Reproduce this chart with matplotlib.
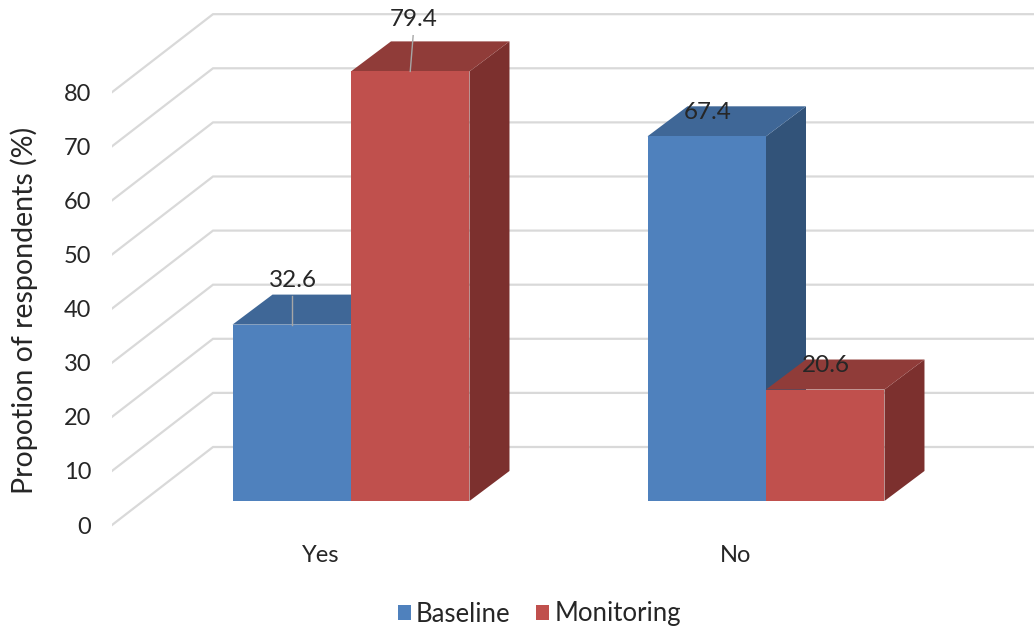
import matplotlib
matplotlib.use('Agg')
import matplotlib.pyplot as plt
from matplotlib.patches import Patch, Polygon

plt.rcParams['font.family'] = ['Lato', 'DejaVu Sans']

# Data
categories = ['Yes', 'No']
baseline = [32.6, 67.4]
monitoring = [79.4, 20.6]
y_ticks = [0, 10, 20, 30, 40, 50, 60, 70, 80]

# Colours: front, top, side
blue = ['#4f81bd', '#3f6797', '#325379']
red = ['#c0504d', '#903c39', '#7c302e']
text_color = '#262626'
grid_color = '#d9d9d9'

# Fake 3D geometry, in data units
bar_w = 0.2855
depth_x = 0.0964
depth_y = 5.55
wall_x = -0.3325
wall_y = 9.98
floor_x = -0.5759
floor_y = -4.44
label_shift = -0.0723

fig = plt.figure(figsize=(10.34, 6.3), dpi=100)
ax = fig.add_axes([112 / 1034, 100 / 630, 922 / 1034, 530 / 630])
ax.set_xlim(floor_x, 1.6458)
ax.set_ylim(-5.36, 92.6)
for spine in ax.spines.values():
    spine.set_visible(False)

# Side wall and back wall grid lines
for t in y_ticks:
    ax.plot([floor_x, wall_x, 1.6458], [t + floor_y, t + wall_y, t + wall_y],
            color=grid_color, lw=1.6, solid_joinstyle='miter', zorder=1)


def draw_box(left, value, colors, zorder):
    right = left + bar_w
    # side face
    ax.add_patch(Polygon([(right, 0), (right + depth_x, depth_y),
                          (right + depth_x, value + depth_y), (right, value)],
                         facecolor=colors[2], edgecolor='none', zorder=zorder))
    # top face
    ax.add_patch(Polygon([(left, value), (left + depth_x, value + depth_y),
                          (right + depth_x, value + depth_y), (right, value)],
                         facecolor=colors[1], edgecolor='none', zorder=zorder))
    # front face
    ax.bar(left, value, width=bar_w, align='edge', color=colors[0], edgecolor='none', zorder=zorder)


for i in range(len(categories)):
    draw_box(i - bar_w, baseline[i], blue, 2)
    draw_box(i, monitoring[i], red, 3)

# Value labels, two of them with a leader line
ax.plot([-bar_w / 2, -bar_w / 2], [baseline[0], baseline[0] + 5.3],
        color='#a6a6a6', lw=1, zorder=4)
ax.plot([bar_w / 2, bar_w / 2 + 0.007], [monitoring[0], monitoring[0] + 6.6],
        color='#a6a6a6', lw=1, zorder=4)
label_args = dict(ha='center', va='center', fontsize=17.5, color=text_color, zorder=5)
ax.annotate(f'{baseline[0]}', (-bar_w / 2, baseline[0]), xytext=(0.7, 32), textcoords='offset points', **label_args)
ax.annotate(f'{monitoring[0]}', (bar_w / 2, monitoring[0]), xytext=(2.5, 37.5), textcoords='offset points', **label_args)
ax.annotate(f'{baseline[1]}', (1 - bar_w / 2, baseline[1]), xytext=(0.7, 17), textcoords='offset points', **label_args)
ax.annotate(f'{monitoring[1]}', (1 + bar_w / 2, monitoring[1]), xytext=(0.7, 17), textcoords='offset points', **label_args)

# Axis text
ax.set_yticks([t + floor_y for t in y_ticks])
ax.set_yticklabels([str(t) for t in y_ticks])
ax.set_xticks([i + label_shift for i in range(len(categories))])
ax.set_xticklabels(categories)
ax.tick_params(axis='y', length=0, pad=15, labelsize=17, labelcolor=text_color)
ax.tick_params(axis='x', length=0, pad=11, labelsize=17, labelcolor=text_color)
ax.set_ylabel('Propotion of respondents (%)', fontsize=20.5, color=text_color)
ax.yaxis.set_label_coords(-74 / 922, 220 / 530)

handles = [Patch(facecolor=blue[0], label='Baseline'), Patch(facecolor=red[0], label='Monitoring')]
ax.legend(handles=handles, loc='center', bbox_to_anchor=(427.5 / 922, -84 / 530), ncol=2, frameon=False,
          fontsize=18.5, labelcolor=text_color, handlelength=0.5, handleheight=0.5,
          handletextpad=0.2, columnspacing=1.0)

fig.savefig('out.png', dpi=100)
